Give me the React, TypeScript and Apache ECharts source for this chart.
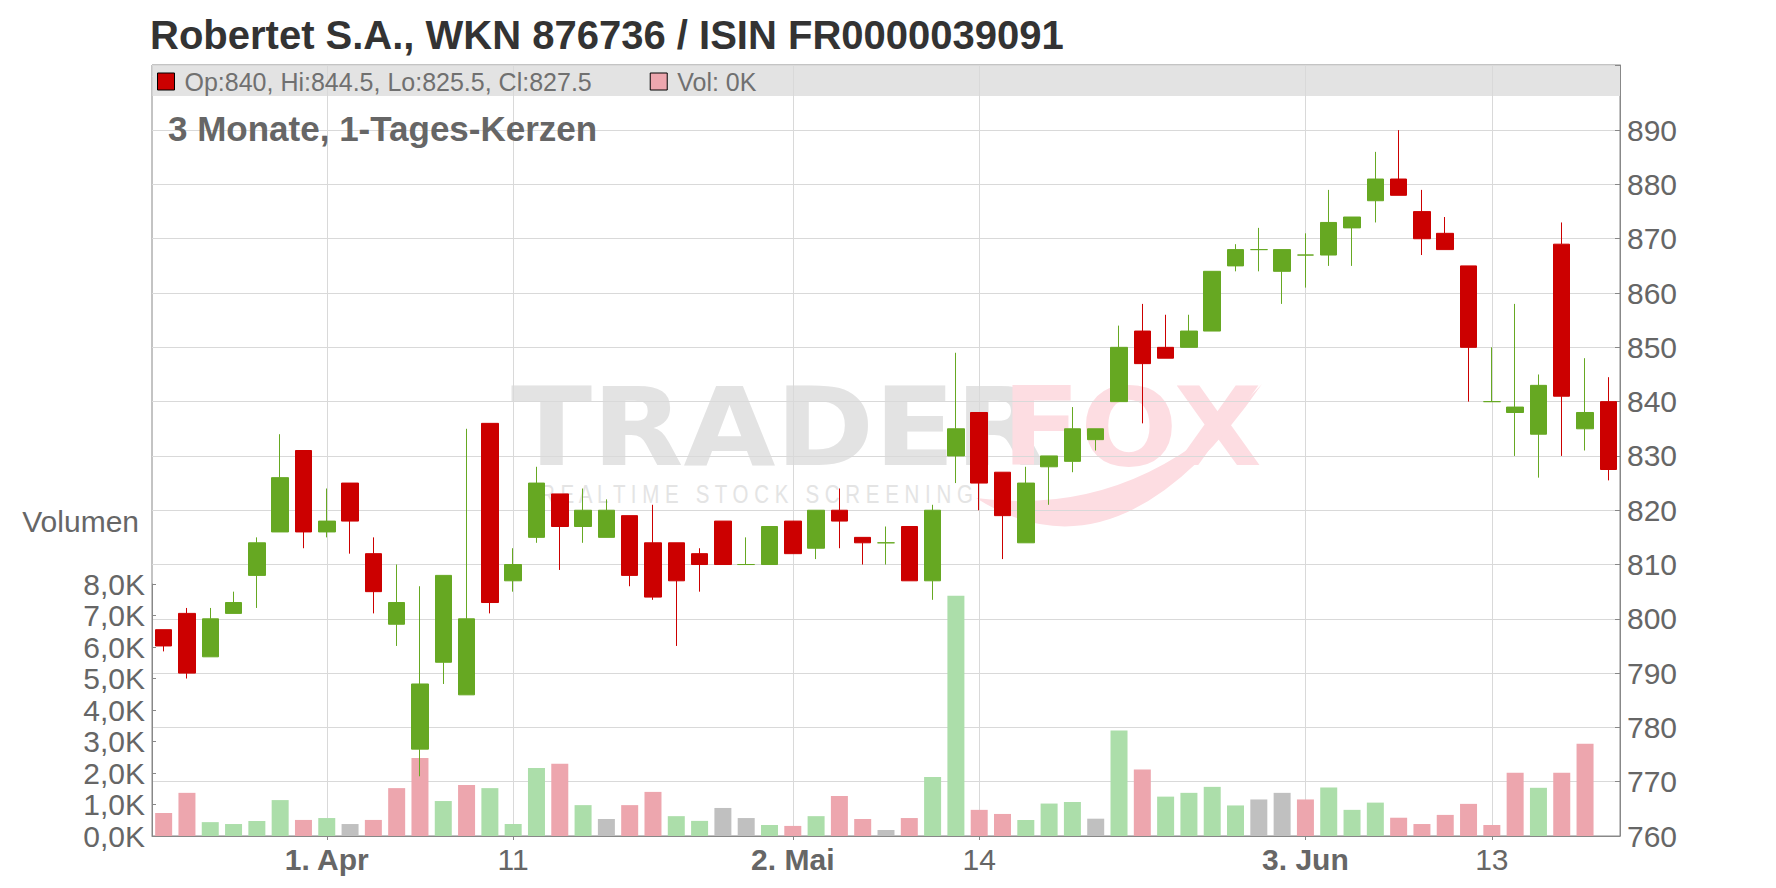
import React, { useEffect, useRef } from 'react';
import * as echarts from 'echarts';

// ---------- data ----------
const dates = [
  '2019-03-21', '2019-03-22', '2019-03-25', '2019-03-26', '2019-03-27', '2019-03-28', '2019-03-29',
  '2019-04-01', '2019-04-02', '2019-04-03', '2019-04-04', '2019-04-05',
  '2019-04-08', '2019-04-09', '2019-04-10', '2019-04-11', '2019-04-12',
  '2019-04-15', '2019-04-16', '2019-04-17', '2019-04-18',
  '2019-04-23', '2019-04-24', '2019-04-25', '2019-04-26',
  '2019-04-29', '2019-04-30', '2019-05-02', '2019-05-03',
  '2019-05-06', '2019-05-07', '2019-05-08', '2019-05-09', '2019-05-10',
  '2019-05-13', '2019-05-14', '2019-05-15', '2019-05-16', '2019-05-17',
  '2019-05-20', '2019-05-21', '2019-05-22', '2019-05-23', '2019-05-24',
  '2019-05-27', '2019-05-28', '2019-05-29', '2019-05-30', '2019-05-31',
  '2019-06-03', '2019-06-04', '2019-06-05', '2019-06-06', '2019-06-07',
  '2019-06-10', '2019-06-11', '2019-06-12', '2019-06-13', '2019-06-14',
  '2019-06-17', '2019-06-18', '2019-06-19', '2019-06-20',
];

const opens = [
  798, 801, 793, 801, 808, 816, 831, 816, 825, 812,
  799, 776, 792, 786, 836, 807, 815, 823, 817, 815,
  819, 814, 814, 812, 818, 810, 810, 818, 813, 820,
  815, 814, 817, 807, 830, 838, 827, 814, 828, 829,
  833, 840, 853, 850, 850, 853, 865, 868, 864, 867,
  867, 872, 877, 881, 875, 871, 865, 840, 838, 834,
  869, 835, 840,
];
const closes = [
  795, 790, 800, 803, 814, 826, 816, 818, 818, 805,
  803, 788, 808, 800, 803, 810, 825, 817, 820, 820,
  808, 804, 807, 810, 810, 810, 817, 812, 820, 818,
  814, 814, 807, 820, 835, 825, 819, 825, 830, 835,
  835, 850, 847, 848, 853, 864, 868, 868, 868, 867,
  873, 874, 881, 878, 870, 868, 850, 840, 839, 843,
  841, 838, 827.5,
];
const lows = [
  794, 789, 793, 801, 802, 816, 813, 815, 812, 801,
  795, 771, 788, 786, 801, 805, 814, 809, 814, 815,
  806, 803.5, 795, 805, 810, 810, 810, 812, 811, 813,
  810, 810, 807, 803.5, 825, 820, 811, 814, 821, 827,
  831, 840, 836, 848, 850, 853, 864, 864, 858, 861,
  865, 865, 873, 878, 867, 868, 840, 840, 830, 826,
  830, 831, 825.5,
];
const highs = [
  798, 802, 802, 805, 815, 834, 831, 824, 825, 815,
  810, 806, 808, 835, 836, 813, 828, 823, 824, 822,
  819, 821, 814, 813, 818, 815, 817, 818, 820, 824,
  815, 817, 817, 821, 849, 838, 827, 828, 830, 839,
  835, 854, 858, 856, 856, 864, 869, 872, 868, 871,
  879, 874, 886, 890, 879, 874, 865, 850, 858, 845,
  873, 848, 844.5,
];
const volumes = [
  730, 1370, 440, 380, 480, 1140, 510, 570, 380, 510,
  1520, 2480, 1110, 1620, 1520, 380, 2160, 2290, 980, 540,
  980, 1400, 630, 480, 890, 570, 350, 320, 630, 1270,
  540, 190, 570, 1870, 7630, 830, 700, 510, 1030, 1080,
  550, 3350, 2110, 1250, 1370, 1560, 970, 1160, 1370, 1160,
  1540, 830, 1060, 580, 380, 670, 1020, 350, 2010, 1530,
  2010, 2930, 0,
];

// dates that carry an x-axis label
const tickDates = ['2019-04-01', '2019-04-11', '2019-05-02', '2019-05-14', '2019-06-03', '2019-06-13'];
const monthNames = ['Jan', 'Feb', 'Mär', 'Apr', 'Mai', 'Jun', 'Jul', 'Aug', 'Sep', 'Okt', 'Nov', 'Dez'];

const priceMin = 760;
const priceMaxLabel = 890;
const priceStep = 10;
const volumeMax = 8000;
const volumeStep = 1000;

const titleText = 'Robertet S.A., WKN 876736 / ISIN FR0000039091';
const subtitleText = '3 Monate, 1-Tages-Kerzen';
const watermarkMain = 'TRADER';
const watermarkAccent = 'FOX';
const watermarkSub = 'R E A L T I M E   S T O C K   S C R E E N I N G';

// ---------- style ----------
const FONT = "'Liberation Sans', Arial, Helvetica, sans-serif";
const RED = '#cc0000';
const GREEN = '#66a822';
const VOL_UP = '#acdeaa';
const VOL_DOWN = '#eda6ae';
const VOL_FLAT = '#c0c0c0';
const GRID_LINE = '#d9d9d9';
const AXIS_LINE = '#888888';
const LABEL = '#666666';

// layout (pixels)
const GRID_LEFT = 152;
const GRID_RIGHT = 156;
const PLOT_TOP = 65;
const PLOT_BOTTOM = 52;
const VOL_TOP = 584;
const BAND_H = 30;
const PRICE_VIEW_MAX = 902;

export default function App() {
  const ref = useRef<HTMLDivElement>(null);

  useEffect(() => {
    if (!ref.current) return;
    try {
      echarts.graphic.registerShape(
        'tfSwoosh',
        echarts.graphic.extendPath('M-24,28 Q120,120 262,-86 Q140,50 -24,28 Z', {}) as any
      );
    } catch (e) {
      // already registered
    }
    const chart = echarts.init(ref.current, null, { renderer: 'svg' });

    const tickIdx = new Set(tickDates.map((d) => dates.indexOf(d)));
    const isTick = (index: number) => tickIdx.has(index);

    const labelFor = (value: string, index: number) => {
      const [, m, d] = value.split('-').map(Number);
      const prev = index > 0 ? Number(dates[index - 1].split('-')[1]) : m;
      if (prev !== m) return `{b|${d}. ${monthNames[m - 1]}}`;
      return String(d);
    };

    const volColor = (i: number) => {
      const ref0 = i > 0 ? closes[i - 1] : opens[0];
      if (closes[i] > ref0) return VOL_UP;
      if (closes[i] < ref0) return VOL_DOWN;
      return VOL_FLAT;
    };

    const last = dates.length - 1;
    const ohlcText = `Op:${opens[last]}, Hi:${highs[last]}, Lo:${lows[last]}, Cl:${closes[last]}`;
    const volText = `Vol: ${Math.round(volumes[last] / 1000)}K`;

    const fmtVol = (v: number) => (v / 1000).toFixed(1).replace('.', ',') + 'K';

    const W = 1776;
    const plotW = W - GRID_LEFT - GRID_RIGHT;

    const option: any = {
      animation: false,
      backgroundColor: '#ffffff',
      title: [
        {
          text: titleText,
          left: 150,
          top: 15,
          padding: 0,
          z: 6,
          textStyle: { fontSize: 40, fontWeight: 'bold', color: '#333333', fontFamily: FONT },
        },
        {
          text: subtitleText,
          left: 168,
          top: 111,
          padding: 0,
          z: 6,
          textStyle: { fontSize: 35, fontWeight: 'bold', color: '#666666', fontFamily: FONT },
        },
      ],
      legend: {
        show: true,
        left: 157,
        top: 69,
        padding: 0,
        itemGap: 58,
        itemWidth: 17,
        itemHeight: 17,
        selectedMode: false,
        z: 5,
        textStyle: { fontSize: 25, color: '#707070', fontFamily: FONT, padding: [0, 0, 0, 5] },
        formatter: (name: string) => (name === 'Kurs' ? ohlcText : volText),
        data: [
          { name: 'Kurs', icon: 'rect', itemStyle: { color: RED, borderColor: '#000', borderWidth: 1 } },
          { name: 'Volumen', icon: 'rect', itemStyle: { color: VOL_DOWN, borderColor: '#000', borderWidth: 1 } },
        ],
      },
      grid: [
        {
          left: GRID_LEFT,
          right: GRID_RIGHT,
          top: PLOT_TOP,
          bottom: PLOT_BOTTOM,
          show: true,
          borderColor: AXIS_LINE,
          borderWidth: 1,
          backgroundColor: 'transparent',
        },
        { left: GRID_LEFT, right: GRID_RIGHT, top: VOL_TOP, bottom: PLOT_BOTTOM },
      ],
      xAxis: [
        {
          type: 'category',
          gridIndex: 0,
          data: dates,
          boundaryGap: true,
          z: 3,
          axisLine: { show: true, lineStyle: { color: AXIS_LINE, width: 1 } },
          axisTick: {
            show: true,
            alignWithLabel: true,
            interval: isTick,
            length: 4,
            lineStyle: { color: AXIS_LINE },
          },
          axisLabel: {
            interval: isTick,
            margin: 8,
            fontSize: 30,
            color: LABEL,
            fontFamily: FONT,
            formatter: labelFor,
            rich: { b: { fontWeight: 'bold', fontSize: 30, color: LABEL, fontFamily: FONT } },
          },
          splitLine: {
            show: true,
            interval: isTick,
            alignWithLabel: true,
            lineStyle: { color: GRID_LINE, width: 1 },
          },
        },
        { type: 'category', gridIndex: 1, data: dates, boundaryGap: true, show: false },
      ],
      yAxis: [
        {
          type: 'value',
          gridIndex: 0,
          position: 'right',
          min: priceMin,
          max: PRICE_VIEW_MAX,
          interval: priceStep,
          z: 1,
          axisLine: { show: true, lineStyle: { color: AXIS_LINE } },
          axisTick: { show: true, inside: true, length: 5, lineStyle: { color: AXIS_LINE } },
          axisLabel: {
            margin: 7,
            fontSize: 30,
            color: LABEL,
            fontFamily: FONT,
            formatter: (v: number) => (v <= priceMaxLabel && v % priceStep === 0 ? String(v) : ''),
          },
          splitLine: { show: true, lineStyle: { color: GRID_LINE, width: 1 } },
        },
        {
          type: 'value',
          gridIndex: 1,
          position: 'left',
          min: 0,
          max: volumeMax,
          interval: volumeStep,
          z: 3,
          name: 'Volumen',
          nameLocation: 'end',
          nameGap: 63,
          nameTextStyle: {
            fontSize: 30,
            color: LABEL,
            fontFamily: FONT,
            align: 'right',
            verticalAlign: 'middle',
            padding: [0, 13, 0, 0],
          },
          axisLine: { show: true, lineStyle: { color: AXIS_LINE } },
          axisTick: { show: true, inside: true, length: 4, lineStyle: { color: AXIS_LINE } },
          axisLabel: { margin: 7, fontSize: 30, color: LABEL, fontFamily: FONT, formatter: fmtVol },
          splitLine: { show: false },
        },
      ],
      series: [
        {
          name: 'Kurs',
          type: 'candlestick',
          xAxisIndex: 0,
          yAxisIndex: 0,
          barWidth: 17,
          z: 4,
          data: dates.map((_, i) => [opens[i], closes[i], lows[i], highs[i]]),
          itemStyle: {
            color: GREEN,
            color0: RED,
            borderColor: GREEN,
            borderColor0: RED,
            borderColorDoji: GREEN,
            borderWidth: 1,
          },
        },
        {
          name: 'Volumen',
          type: 'bar',
          xAxisIndex: 1,
          yAxisIndex: 1,
          barWidth: 17,
          z: 4,
          data: volumes.map((v, i) => ({ value: v, itemStyle: { color: volColor(i) } })),
        },
      ],
      graphic: [
        {
          type: 'rect',
          silent: true,
          z: 2,
          shape: { x: GRID_LEFT + 0.5, y: PLOT_TOP + 1, width: plotW - 0.5, height: BAND_H },
          style: { fill: '#e3e3e3' },
        },
        {
          type: 'text',
          silent: true,
          z: 0,
          x: 511,
          y: 428,
          scaleX: 1.1,
          style: {
            text: watermarkMain,
            fontSize: 108,
            fontWeight: 'bold',
            fontFamily: "'DejaVu Sans', sans-serif",
            fill: '#e3e3e3',
            align: 'left',
            verticalAlign: 'middle',
          },
        },
        {
          type: 'text',
          silent: true,
          z: 0,
          x: 1002,
          y: 428,
          scaleX: 1.06,
          style: {
            text: watermarkAccent,
            fontSize: 108,
            fontWeight: 'bold',
            fontFamily: "'DejaVu Sans', sans-serif",
            fill: '#fddde2',
            align: 'left',
            verticalAlign: 'middle',
          },
        },
        {
          type: 'tfSwoosh',
          silent: true,
          z: 0,
          x: 1000,
          y: 470,
          style: { fill: '#fddde2' },
        },
        {
          type: 'text',
          silent: true,
          z: 0,
          x: 540,
          y: 494,
          scaleX: 0.82,
          style: {
            text: watermarkSub,
            fontSize: 25,
            fontFamily: FONT,
            fill: '#e4e4e4',
            align: 'left',
            verticalAlign: 'middle',
          },
        },
      ],
    };

    chart.setOption(option);
    return () => {
      chart.dispose();
    };
  }, []);

  return (
    <div
      ref={ref}
      style={{ position: 'fixed', left: 0, top: 0, width: 1776, height: 888, background: '#fff' }}
    />
  );
}
